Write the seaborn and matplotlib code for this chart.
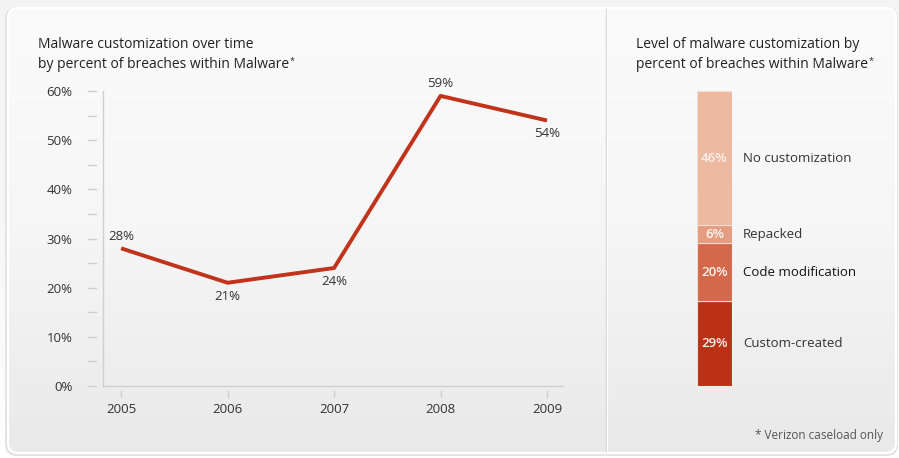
import numpy as np
import pandas as pd
import matplotlib
matplotlib.use("Agg")
import matplotlib.pyplot as plt
from matplotlib.patches import FancyBboxPatch
from matplotlib.lines import Line2D
import seaborn as sns

# ---- data ----
years = [2005, 2006, 2007, 2008, 2009]
pct_over_time = [28, 21, 24, 59, 54]
label_above = [True, False, False, True, False]

levels = ["Custom-created", "Code modification", "Repacked", "No customization"]
level_pct = [29, 20, 6, 46]
level_colors = ["#bb3118", "#d3694a", "#e49d80", "#edb9a0"]

y_ticks = [0, 10, 20, 30, 40, 50, 60]
y_tick_labels = ["0%", "10%", "20%", "30%", "40%", "50%", "60%"]

sns.set_theme(style="white")
FONT = ["Open Sans", "DejaVu Sans"]
plt.rcParams["font.family"] = FONT

W, H = 899, 458
fig = plt.figure(figsize=(W / 100, H / 100), dpi=100, facecolor="#f6f6f6")

def fx(px):
    return px / W

def fy(py):
    return 1 - py / H

# ---- background card with gradient ----
bg = fig.add_axes([0, 0, 1, 1], zorder=-10)
bg.axis("off")
outer = np.linspace(0, 1, 64).reshape(-1, 1)
ocmap = matplotlib.colors.LinearSegmentedColormap.from_list("o", ["#f4f4f4", "#f7f7f7", "#ffffff"])
bg.imshow(outer, extent=[0, W, H, 0], cmap=ocmap, aspect="auto", zorder=-5)
shadow = FancyBboxPatch((5, 7), 893, 449, boxstyle="round,pad=0,rounding_size=12",
                        facecolor="#e2e2e2", edgecolor="none", zorder=-2)
bg.add_patch(shadow)
card = FancyBboxPatch((8, 8), 888, 445, boxstyle="round,pad=0,rounding_size=10",
                      facecolor="none", edgecolor="#ffffff", lw=1.6, zorder=2)
bg.add_patch(card)
grad = np.linspace(0, 1, 256).reshape(-1, 1)
cmap = matplotlib.colors.LinearSegmentedColormap.from_list("g", ["#fbfbfb", "#f6f6f6", "#e9e9e9"])
im = bg.imshow(grad, extent=[8, 896, 453, 8], cmap=cmap, aspect="auto", zorder=0)
im.set_clip_path(card)
# divider
bg.plot([606, 606], [9, 452], color="#d6d6d6", lw=1.0, zorder=3)
bg.plot([607.2, 607.2], [9, 452], color="#ffffff", lw=0.8, zorder=3)
bg.set_xlim(0, W)
bg.set_ylim(H, 0)

# ---- titles ----
tcol = "#222222"
def title_line(x, y, s, star=False):
    t = fig.text(fx(x), fy(y), s, fontsize=10, color=tcol, va="center")
    if star:
        fig.canvas.draw()
        bb = t.get_window_extent()
        fig.text(bb.x1 / W + 0.5 / W, fy(y - 3), "*", fontsize=6.5, color=tcol, va="center")

title_line(38, 45, "Malware customization over time")
title_line(38, 64, "by percent of breaches within Malware", star=True)
title_line(636, 45, "Level of malware customization by")
title_line(636, 64, "percent of breaches within Malware", star=True)
fig.text(fx(883), fy(435), "* Verizon caseload only", fontsize=8.5, color="#555555", va="center", ha="right")

# ---- line chart ----
ax = fig.add_axes([fx(103), fy(386), fx(563) - fx(103), fy(91) - fy(386)])
ax.set_facecolor("none")
df = pd.DataFrame({"year": years, "pct": pct_over_time})
sns.lineplot(data=df, x="year", y="pct", ax=ax, color="#c1331b", lw=2.8, solid_capstyle="butt")
ax.set_xlim(2004.83, 2009.15)
ax.set_ylim(0, 60)
ax.set_xlabel("")
ax.set_ylabel("")
for s in ["top", "right"]:
    ax.spines[s].set_visible(False)
for s in ["left", "bottom"]:
    ax.spines[s].set_color("#cfcfcf")
    ax.spines[s].set_linewidth(1.0)
ax.set_yticks(y_ticks)
ax.set_yticklabels(y_tick_labels)
ax.set_xticks(years)
ax.set_xticklabels([str(y) for y in years])
ax.tick_params(axis="y", length=0, pad=22, labelsize=9.5, labelcolor="#333333")
ax.tick_params(axis="x", length=0, pad=12, labelsize=9.5, labelcolor="#333333")
# custom tick marks with gap
ytr = matplotlib.transforms.blended_transform_factory(ax.transAxes, ax.transData)
off = 15 / (563 - 103)
tl = 8 / (563 - 103)
for v in np.arange(0, 61, 5):
    ax.add_line(Line2D([-off, -off + tl], [v, v], transform=ytr, color="#cfcfcf", lw=1.0, clip_on=False))
xtr = matplotlib.transforms.blended_transform_factory(ax.transData, ax.transAxes)
yo = 5 / (386 - 91)
yl = 6 / (386 - 91)
for yr in years:
    ax.add_line(Line2D([yr, yr], [-yo, -yo - yl], transform=xtr, color="#cfcfcf", lw=1.0, clip_on=False))
for yr, v, above in zip(years, pct_over_time, label_above):
    ax.annotate(f"{v}%", (yr, v), xytext=(0, 4 if above else -5), textcoords="offset points",
                ha="center", va="bottom" if above else "top", fontsize=9.5, color="#333333")

# ---- stacked bar ----
ax2 = fig.add_axes([fx(697), fy(386), fx(732) - fx(697), fy(91) - fy(386)])
ax2.set_facecolor("none")
ax2.set_xlim(-0.5, 0.5)
total = sum(level_pct)
ax2.set_ylim(0, total)
bottom = 0
for name, v, c in zip(levels, level_pct, level_colors):
    ax2.bar([0], [v], bottom=bottom, width=1.0, color=c, edgecolor="#f4dcd0", linewidth=0.8)
    mid = bottom + v / 2
    ax2.text(0, mid, f"{v}%", ha="center", va="center", color="white", fontsize=9.5,
             fontweight="semibold", alpha=0.92 if name != "No customization" else 0.8)
    ax2.text(0.81, mid, name, ha="left", va="center", fontsize=9.5,
             color="#111111" if name == "Code modification" else "#333333")
    bottom += v
ax2.axis("off")

fig.savefig("out.png", dpi=100, facecolor=fig.get_facecolor())
